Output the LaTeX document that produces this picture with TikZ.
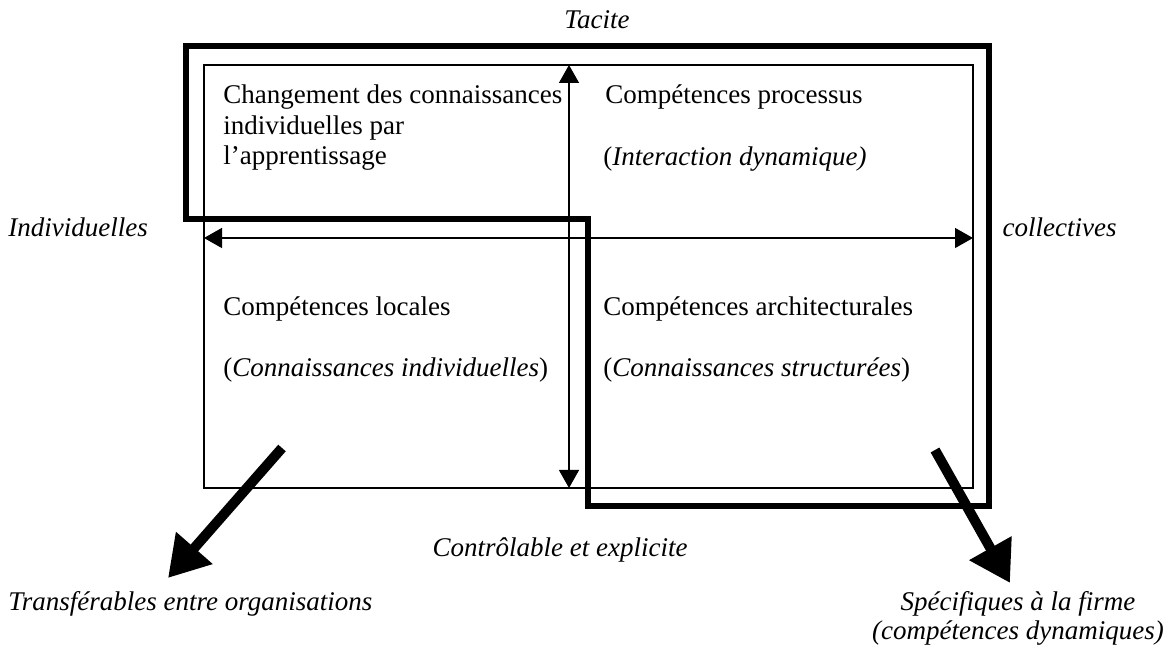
\documentclass[tikz,border=0pt]{standalone}
\usepackage{fontspec}
\setmainfont{Liberation Serif}
\usetikzlibrary{arrows.meta}
\tikzset{Lbl/.style = {anchor=base west, inner sep=0pt, font=\fontsize{13.5}{15}\selectfont},
  Emph/.style = {inner sep=0pt, font=\fontsize{13.5}{15}\selectfont\itshape},
  AxeStyle/.style = {line width=0.7pt, {Triangle[length=9pt,width=10pt]}-{Triangle[length=9pt,width=10pt]}},
  BigArrow/.style = {line width=5pt, -{Triangle[length=20pt,width=23pt]}}}

\begin{document}
\begin{tikzpicture}[x=0.5pt,y=-0.5pt]
\useasboundingbox (0,0) rectangle (1169,646);
\draw[line width=0.75pt] (204,65) rectangle (973,488);
\coordinate (top) at (569,65);
\coordinate (bot) at (569,488);
\coordinate (left) at (204,238);
\coordinate (right) at (973,238);
\draw[AxeStyle] (top) -- (bot);
\draw[AxeStyle] (left) -- (right);
\draw[line width=3.4pt, line join=miter] (186,46) -- (989,46) -- (989,506) -- (588,506)
  -- (588,219) -- (186,219) -- cycle;
% quadrants
\node[Lbl] (chg) at (223,104) {Changement des connaissances};
\node[Lbl] (chg2) at (223,135) {individuelles par};
\node[Lbl] (chg3) at (223,165) {l'apprentissage};
\node[Lbl] (proc) at (605,104) {Compétences processus};
\node[Lbl] (proc2) at (603,166) {(\textit{Interaction dynamique)}};
\node[Lbl] (loc) at (223,316) {Compétences locales};
\node[Lbl] (loc2) at (223,377) {(\textit{Connaissances individuelles})};
\node[Lbl] (arch) at (603,316) {Compétences architecturales};
\node[Lbl] (arch2) at (603,377) {(\textit{Connaissances structurées})};
% axes
\node[Emph, anchor=base] (tacite) at (597,29) {Tacite};
\node[Emph, anchor=base west] (indiv) at (8,237) {Individuelles};
\node[Emph, anchor=base east] (coll) at (1117,237) {collectives};
\node[Emph, anchor=base] (ctrl) at (560,557) {Contrôlable et explicite};
\node[Emph, anchor=base west] (trans) at (8,611) {Transférables entre organisations};
\node[Emph, anchor=base] (spec) at (1018,611) {Spécifiques à la firme};
\node[Emph, anchor=base] (spec2) at (1018,640) {(compétences dynamiques)};
\coordinate (a1) at (282,448);
\coordinate (b1) at (168,578);
\coordinate (a2) at (935,450);
\coordinate (b2) at (1010,583);
\draw[BigArrow] (a1) -- (b1);
\draw[BigArrow] (a2) -- (b2);
\end{tikzpicture}
\end{document}
